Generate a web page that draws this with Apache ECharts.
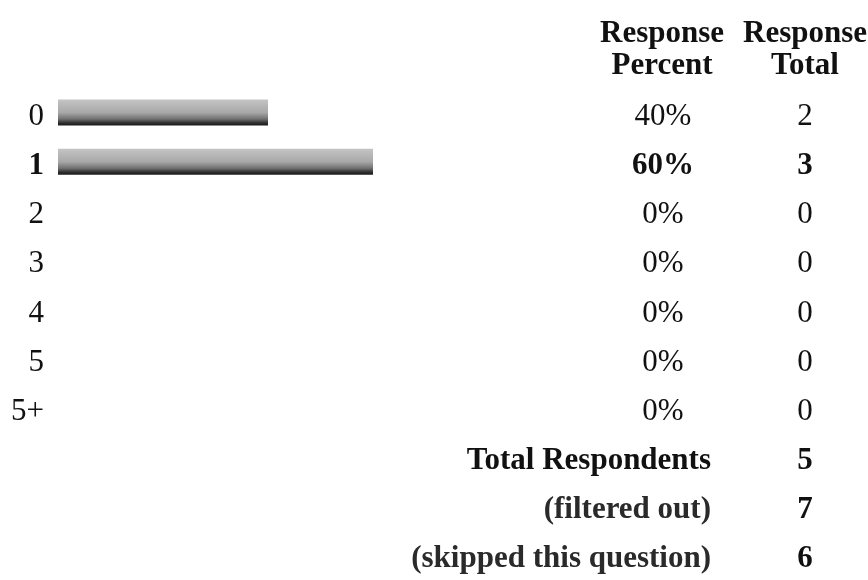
<!DOCTYPE html>
<html>
<head>
<meta charset="utf-8">
<script src="https://cdn.jsdelivr.net/npm/echarts@6/dist/echarts.min.js"></script>
<style>html,body{margin:0;padding:0;background:#fff;}#c{width:868px;height:580px;}</style>
</head>
<body>
<div id="c"></div>
<script>
const categories = ['0', '1', '2', '3', '4', '5', '5+'];
const percents = [40, 60, 0, 0, 0, 0, 0];
const totals = [2, 3, 0, 0, 0, 0, 0];
const summaryLabels = ['Total Respondents', '(filtered out)', '(skipped this question)'];
const summaryValues = [5, 7, 6];
const headerPercent = 'Response\nPercent';
const headerTotal = 'Response\nTotal';

const FONT = '"Liberation Serif", "Times New Roman", serif';
const FS = 31;
const nRows = categories.length;
const maxIdx = percents.indexOf(Math.max.apply(null, percents));
const blanks = summaryLabels.map(() => '');

const leftData = categories.concat(blanks);
const pctData = percents.map(v => v + '%').concat(blanks);
const totData = totals.map(String).concat(summaryValues.map(String));
const sumData = categories.map(() => '').concat(summaryLabels);
const barData = percents.slice();

function boldFmt(isBold) {
  return function (value, index) {
    if (value === '') return '';
    return isBold(index) ? '{b|' + value + '}' : '{n|' + value + '}';
  };
}
const rich = {
  n: { fontFamily: FONT, fontSize: FS, color: '#111', fontWeight: 'normal' },
  b: { fontFamily: FONT, fontSize: FS, color: '#111', fontWeight: 'bold' },
  g: { fontFamily: FONT, fontSize: FS, color: '#2a2a2a', fontWeight: 'bold' }
};
const PAD = [8, 0, 0, 0];

function catAxis(data, opts) {
  return Object.assign({
    type: 'category',
    inverse: true,
    data: data,
    axisLine: { show: false },
    axisTick: { show: false },
    splitLine: { show: false }
  }, opts);
}

const chart = echarts.init(document.getElementById('c'), null, { renderer: 'canvas' });
chart.setOption({
  backgroundColor: '#ffffff',
  animation: false,
  title: [
    { text: headerPercent, left: 662, top: 18, textAlign: 'center', padding: 0,
      textStyle: { fontFamily: FONT, fontSize: FS, fontWeight: 'bold', color: '#111', lineHeight: 32 } },
    { text: headerTotal, left: 805, top: 18, textAlign: 'center', padding: 0,
      textStyle: { fontFamily: FONT, fontSize: FS, fontWeight: 'bold', color: '#111', lineHeight: 32 } }
  ],
  grid: { left: 58, top: 88, width: 525, height: 500, containLabel: false },
  xAxis: { type: 'value', min: 0, max: 100, show: false },
  yAxis: [
    catAxis(leftData, {
      position: 'left',
      axisLabel: { margin: 14, padding: PAD, rich: rich,
        formatter: boldFmt(i => i === maxIdx) }
    }),
    catAxis(pctData, {
      position: 'right', offset: 80,
      axisLabel: { margin: 0, align: 'center', padding: PAD, rich: rich,
        formatter: boldFmt(i => i === maxIdx) }
    }),
    catAxis(totData, {
      position: 'right', offset: 222,
      axisLabel: { margin: 0, align: 'center', padding: PAD, rich: rich,
        formatter: boldFmt(i => i === maxIdx || i >= nRows) }
    }),
    catAxis(sumData, {
      position: 'right', offset: 128,
      axisLabel: { margin: 0, align: 'right', padding: PAD, rich: rich,
        formatter: function (value, index) {
          if (value === '') return '';
          return index === nRows ? '{b|' + value + '}' : '{g|' + value + '}';
        } }
    })
  ],
  series: [{
    type: 'bar',
    yAxisIndex: 0,
    data: barData,
    barWidth: 26,
    itemStyle: {
      color: new echarts.graphic.LinearGradient(0, 0, 0, 1, [
        { offset: 0, color: '#c4c4c4' },
        { offset: 0.5, color: '#a8a8a8' },
        { offset: 0.75, color: '#707070' },
        { offset: 0.9, color: '#2e2e2e' },
        { offset: 1, color: '#1a1a1a' }
      ])
    },
    silent: true
  }]
});
</script>
</body>
</html>
